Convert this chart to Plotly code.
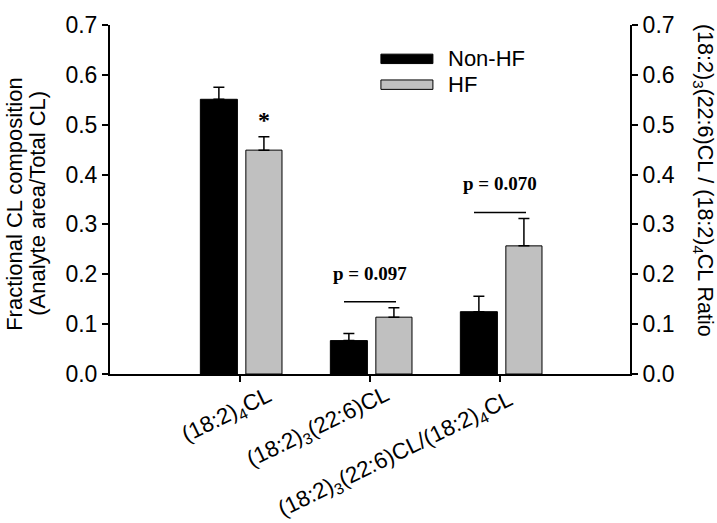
import plotly.graph_objects as go

# ---- data ----
categories = ["(18:2)<sub>4</sub>CL",
              "(18:2)<sub>3</sub>(22:6)CL",
              "(18:2)<sub>3</sub>(22:6)CL/(18:2)<sub>4</sub>CL"]
nonhf = [0.551, 0.067, 0.125]
nonhf_err = [0.024, 0.014, 0.031]
hf = [0.449, 0.114, 0.257]
hf_err = [0.027, 0.019, 0.055]
series_names = ["Non-HF", "HF"]
y_ticks = [0.0, 0.1, 0.2, 0.3, 0.4, 0.5, 0.6, 0.7]
left_title = ["Fractional CL composition", "(Analyte area/Total CL)"]
right_title = "(18:2)<sub>3</sub>(22:6)CL / (18:2)<sub>4</sub>CL Ratio"
sig_star = "*"
p_texts = ["p = 0.097", "p = 0.070"]

BLACK = "#000000"
GRAY = "#c0c0c0"
SANS = "Liberation Sans, Arial, sans-serif"
SERIF = "Liberation Serif, Times New Roman, serif"

fig = go.Figure()

def add_bars(idx, yaxis):
    for vals, errs, color, off, w in [(nonhf, nonhf_err, BLACK, -0.305, 0.285),
                                      (hf, hf_err, GRAY, 0.045, 0.278)]:
        fig.add_trace(go.Bar(
            x=[categories[i] for i in idx], y=[vals[i] for i in idx],
            offset=off, width=w, yaxis=yaxis,
            marker=dict(color=color, line=dict(color=BLACK, width=1)),
            error_y=dict(type="data", symmetric=False,
                         array=[errs[i] for i in idx],
                         arrayminus=[0 for _ in idx],
                         color=BLACK, thickness=1.5, width=5.5),
            showlegend=False, hoverinfo="skip"))

add_bars([0, 1], "y")
add_bars([2], "y2")

axis_common = dict(range=[0, 0.70001], tickvals=y_ticks, tickformat=".1f",
                   showgrid=False, zeroline=False, showline=True,
                   linecolor=BLACK, linewidth=2, ticks="outside", ticklen=6,
                   tickwidth=1.5, tickcolor=BLACK, ticklabeloverflow="allow",
                   tickfont=dict(family=SANS, size=23, color=BLACK))

fig.update_layout(
    width=717, height=523,
    margin=dict(l=110, r=87, t=12, b=149),
    plot_bgcolor="white", paper_bgcolor="white",
    barmode="overlay",
    xaxis=dict(type="category", categoryorder="array", categoryarray=categories,
               range=[-1, 3], showgrid=False, zeroline=False, showline=True,
               linecolor=BLACK, linewidth=2, ticks="outside", ticklen=6,
               tickwidth=1.5, tickcolor=BLACK, showticklabels=False),
    yaxis=dict(**axis_common),
    yaxis2=dict(**axis_common, overlaying="y", side="right", anchor="x"),
)

annotations = []
# rotated category labels
label_shift = [(-13, -42), (-52, -54), (-104, -81)]
for cat, (dx, dy) in zip(categories, label_shift):
    annotations.append(dict(x=cat, xref="x", y=0, yref="paper", text=cat,
                            textangle=-26, showarrow=False, xanchor="center",
                            yanchor="middle", xshift=dx, yshift=dy,
                            font=dict(family=SANS, size=22.5, color=BLACK)))
# left axis title (two lines)
for txt, dx in zip(left_title, [-95, -72]):
    annotations.append(dict(x=0, xref="paper", y=0.4876, yref="paper", text=txt,
                            textangle=-90, showarrow=False, xanchor="center",
                            yanchor="middle", xshift=dx,
                            font=dict(family=SANS, size=22, color=BLACK)))
# right axis title
annotations.append(dict(x=1, xref="paper", y=0.556, yref="paper", text=right_title,
                        textangle=90, showarrow=False, xanchor="center",
                        yanchor="middle", xshift=73,
                        font=dict(family=SANS, size=21.5, color=BLACK)))
# significance star
annotations.append(dict(x=categories[0], xref="x", y=hf[0] + hf_err[0], yref="y",
                        text="<b>%s</b>" % sig_star, showarrow=False, xanchor="center",
                        yanchor="bottom", xshift=24, yshift=2,
                        font=dict(family=SERIF, size=24, color=BLACK)))
# p-values with lines above the error bars
p_axes = ["y", "y2"]
for k, (txt, ya) in enumerate(zip(p_texts, p_axes)):
    i = k + 1
    top = max(nonhf[i] + nonhf_err[i], hf[i] + hf_err[i])
    annotations.append(dict(x=categories[i], xref="x", y=top, yref=ya, text="<b>%s</b>" % txt,
                            showarrow=False, xanchor="center", yanchor="bottom",
                            yshift=22, font=dict(family=SERIF, size=19, color=BLACK)))
    fig.add_shape(type="line", xref="x", yref=ya, x0=i - 0.2, x1=i + 0.2,
                  ysizemode="pixel", yanchor=top, y0=6, y1=6,
                  line=dict(color=BLACK, width=1.5))

# custom legend
leg_y = [0.903, 0.829]
for name, color, yc in zip(series_names, [BLACK, GRAY], leg_y):
    fig.add_shape(type="rect", xref="paper", yref="paper",
                  x0=0.521, x1=0.621, y0=yc - 0.0135, y1=yc + 0.0135,
                  fillcolor=color, line=dict(color=BLACK, width=1))
    annotations.append(dict(x=0.646, xref="paper", y=yc, yref="paper", text=name,
                            showarrow=False, xanchor="left", yanchor="middle",
                            font=dict(family=SANS, size=22, color=BLACK)))

fig.update_layout(annotations=annotations)
# remove the browser's default 8px page margin so the figure fills the window
fig.write_html("out.html", config={"displayModeBar": False},
               post_script="document.body.style.margin='0';")
